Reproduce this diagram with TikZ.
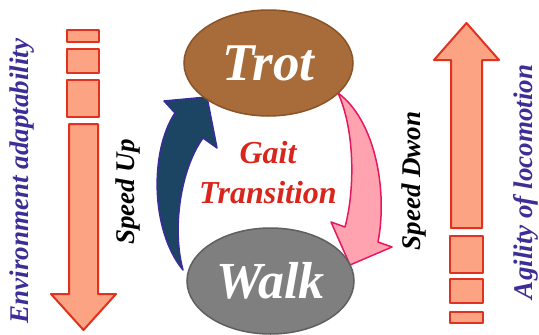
\documentclass[tikz,border=0pt]{standalone}
\usepackage{fontspec}
\setmainfont{Liberation Serif}
\usetikzlibrary{positioning, shapes.geometric, calc}

\definecolor{barred}{HTML}{E0321F}
\definecolor{barfill}{HTML}{FCA383}
\definecolor{trotfill}{HTML}{A86B3A}
\definecolor{trotdraw}{HTML}{8A5428}
\definecolor{walkfill}{HTML}{7F7F7F}
\definecolor{walkdraw}{HTML}{5F5F5F}
\definecolor{upfill}{HTML}{1B4562}
\definecolor{updraw}{HTML}{3A2C9C}
\definecolor{downfill}{HTML}{FFA3B1}
\definecolor{downdraw}{HTML}{E8175D}
\definecolor{axistext}{HTML}{3C2E96}
\definecolor{gaittext}{HTML}{D9261C}

\tikzset{
    bar/.style={draw=barred, fill=barfill, line width=2pt, line join=round},
    gait/.style={ellipse, inner sep=0pt, line width=1.5pt, text=white,
        font=\bfseries\itshape\fontsize{53}{53}\selectfont},
    axislabel/.style={rotate=90, text=axistext,
        font=\bfseries\itshape\fontsize{27}{27}\selectfont},
    speedlabel/.style={rotate=90,
        font=\bfseries\itshape\fontsize{27}{27}\selectfont}
}

\begin{document}
\begin{tikzpicture}[x=1pt, y=-1pt]
    \useasboundingbox (0,0) rectangle (539,335);

    \draw[bar] (67,30) rectangle (99,42);
    \draw[bar] (67,49) rectangle (99,73);
    \draw[bar] (67,80) rectangle (99,117);
    \draw[bar] (69,124) -- (98,124) -- (98,294) -- (116,294)
        -- (83.5,330) -- (51,294) -- (69,294) -- cycle;

    \draw[bar] (451,228) -- (451,60) -- (434,60) -- (466.5,23)
        -- (499,60) -- (482,60) -- (482,228) -- cycle;
    \draw[bar] (450,236) rectangle (483,273);
    \draw[bar] (450,279) rectangle (483,303);
    \draw[bar] (450,312) rectangle (483,323);

    \draw[fill=upfill, draw=updraw, line width=1.5pt, line join=round]
        (207,97) -- (164,101) -- (175,113)
        .. controls (150,150) and (150,230) .. (183,270)
        .. controls (172,230) and (180,170) .. (203,138)
        -- (217,148) -- cycle;
    \draw[fill=downfill, draw=downdraw, line width=1.5pt, line join=round]
        (338,93) .. controls (375,120) and (388,190) .. (378,242)
        -- (392,247) -- (350,265) -- (331,222) -- (345,227)
        .. controls (355,190) and (355,130) .. (338,93) -- cycle;

    \node[gait, fill=trotfill, draw=trotdraw, minimum width=169pt,
        minimum height=106pt] (trot) at (268.5,63) {Trot};
    \node[gait, fill=walkfill, draw=walkdraw, minimum width=167pt,
        minimum height=106pt, font=\bfseries\itshape\fontsize{52}{52}\selectfont]
        (walk) at (270.5,281) {Walk};

    \node[text=gaittext, align=center,
        font=\bfseries\itshape\fontsize{32}{40}\selectfont]
        (transition) at (268,173) {Gait\\Transition};

    \node[speedlabel] (up) at (128,192) {Speed Up};
    \node[speedlabel] (down) at (414,181) {Speed Dwon};

    \node[axislabel] (env) at (22,181) {Environment adaptability};
    \node[axislabel] (agility) at (526,182) {Agility of locomotion};
\end{tikzpicture}
\end{document}
